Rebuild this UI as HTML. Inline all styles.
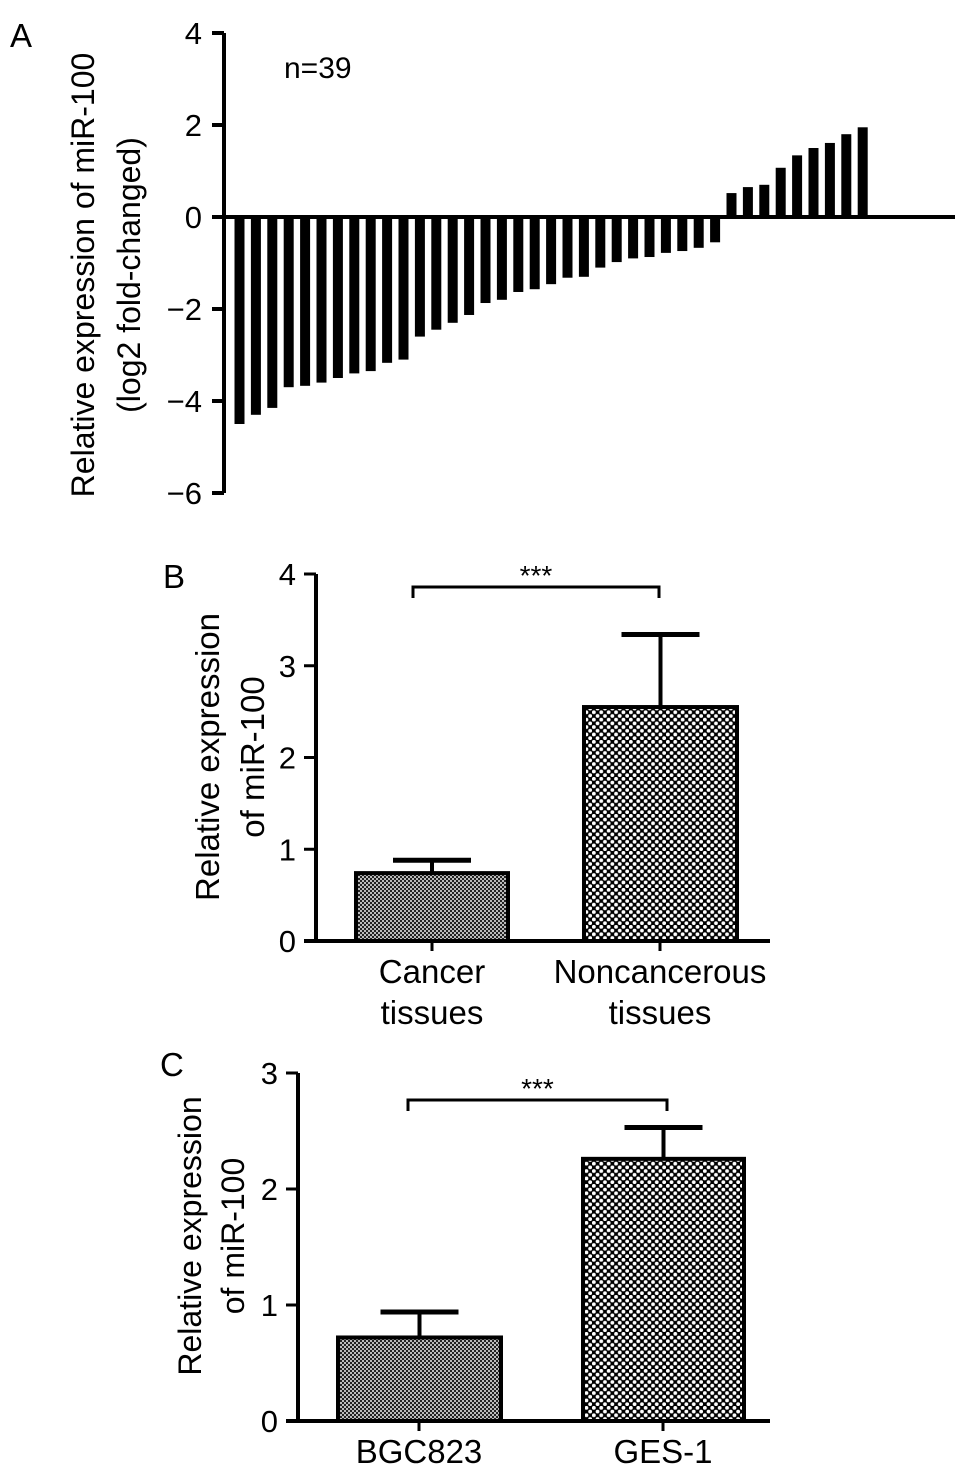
<!DOCTYPE html>
<html><head><meta charset="utf-8"><style>
html,body{margin:0;padding:0;background:#fff}
svg{display:block;font-family:"Liberation Sans",Arial,sans-serif}
</style></head><body>
<svg id="fig" width="969" height="1484" viewBox="0 0 969 1484" xmlns="http://www.w3.org/2000/svg">
<defs>
<pattern id="fine" width="4" height="4" patternUnits="userSpaceOnUse">
<rect width="4" height="4" fill="#bbb"/><rect width="2" height="2" fill="#222"/><rect x="2" y="2" width="2" height="2" fill="#222"/>
</pattern>
<pattern id="coarse" width="7.4" height="7.4" patternUnits="userSpaceOnUse">
<rect width="7.4" height="7.4" fill="#000"/><circle cx="1.85" cy="1.85" r="1.9" fill="#fff"/><circle cx="5.55" cy="5.55" r="1.9" fill="#fff"/>
</pattern>
</defs>
<g id="gA"></g>
<g id="gB"></g>
<g id="gC"></g>
</svg>
<script>
// Panel A data
const aValues = [-4.5,-4.3,-4.15,-3.7,-3.67,-3.6,-3.5,-3.4,-3.35,-3.17,-3.1,-2.6,-2.45,-2.3,-2.13,-1.87,-1.8,-1.63,-1.57,-1.46,-1.32,-1.3,-1.1,-0.98,-0.9,-0.87,-0.78,-0.74,-0.67,-0.55,0.52,0.65,0.7,1.07,1.34,1.5,1.61,1.8,1.95];
const aTicks = [4,2,0,-2,-4,-6];
const aTickLabels = ["4","2","0","\u22122","\u22124","\u22126"];
// Panel B data
const bCategories = [["Cancer","tissues"],["Noncancerous","tissues"]];
const bMeans = [0.74,2.55];
const bErrors = [0.14,0.79];
const bTicks = [0,1,2,3,4];
// Panel C data
const cCategories = [["BGC823"],["GES-1"]];
const cMeans = [0.72,2.26];
const cErrors = [0.22,0.27];
const cTicks = [0,1,2,3];

const NS="http://www.w3.org/2000/svg";
function el(parent,tag,attrs,text){const e=document.createElementNS(NS,tag);for(const k in attrs)e.setAttribute(k,attrs[k]);if(text!==undefined)e.textContent=text;parent.appendChild(e);return e;}

// ---- Panel A ----
(function(){
  const g=document.getElementById('gA');
  const y0=217, k=46, axX=224;
  const ay=v=>y0-v*k;
  const pitch=16.4, x0=239.5, bw=10;
  const ax=i=>x0+i*pitch;
  let t=el(g,'text',{x:10,y:47,'font-size':33});t.textContent='A';
  
  
  t=el(g,'text',{x:284,y:78,'font-size':30},'n=39');
  
  
  aValues.forEach((v,i)=>{
    const r=el(g,'rect',{x:ax(i)-bw/2,y:Math.min(ay(v),y0),width:bw,height:Math.abs(ay(v)-y0),fill:'#000'});
    
    
  });
  let l=el(g,'line',{x1:axX,y1:ay(4),x2:axX,y2:ay(-6),stroke:'#000','stroke-width':4});
  
  
  l=el(g,'line',{x1:axX,y1:y0,x2:955,y2:y0,stroke:'#000','stroke-width':4});
  
  
  aTicks.forEach((v,i)=>{
    el(g,'line',{x1:axX-12,y1:ay(v),x2:axX,y2:ay(v),stroke:'#000','stroke-width':4});
    const tt=el(g,'text',{x:axX-22,y:ay(v)+11,'font-size':31,'text-anchor':'end'},aTickLabels[i]);
    
    
  });
  const tl=el(g,'text',{transform:'translate(94,275) rotate(-90)','font-size':32,'text-anchor':'middle'},'Relative expression of miR-100');
  
  
  const tl2=el(g,'text',{transform:'translate(140,275) rotate(-90)','font-size':32,'text-anchor':'middle'},'(log2 fold-changed)');
  
  
})();

function barPanel(id,cfg){
  const g=document.getElementById(id);
  const y=v=>cfg.y0-v*cfg.k;
  let t=el(g,'text',{x:cfg.lx,y:cfg.ly,'font-size':33},cfg.letter);
  
  
  const fills=['url(#fine)','url(#coarse)'];
  cfg.means.forEach((m,i)=>{
    const [xl,xr]=cfg.bars[i]; const cx=(xl+xr)/2;
    const e=cfg.errs[i];
    el(g,'line',{x1:cx,y1:y(m),x2:cx,y2:y(m+e),stroke:'#000','stroke-width':4});
    el(g,'line',{x1:cx-39,y1:y(m+e),x2:cx+39,y2:y(m+e),stroke:'#000','stroke-width':5});
    const r=el(g,'rect',{x:xl,y:y(m),width:xr-xl,height:y(0)-y(m),fill:fills[i],stroke:'#000','stroke-width':4});
    
    
    el(g,'line',{x1:cfg.tx[i],y1:y(0),x2:cfg.tx[i],y2:y(0)+10,stroke:'#000','stroke-width':3});
    cfg.categories[i].forEach((s,j)=>{
      const tt=el(g,'text',{x:cfg.tx[i],y:y(0)+42+j*41,'font-size':33,'text-anchor':'middle'},s);
      
      
    });
  });
  let l=el(g,'line',{x1:cfg.ax,y1:y(cfg.ticks[cfg.ticks.length-1]),x2:cfg.ax,y2:y(0)+2,stroke:'#000','stroke-width':4});
  
  
  l=el(g,'line',{x1:cfg.ax-12,y1:y(0),x2:cfg.xend,y2:y(0),stroke:'#000','stroke-width':4});
  
  
  cfg.ticks.forEach(v=>{
    el(g,'line',{x1:cfg.ax-12,y1:y(v),x2:cfg.ax,y2:y(v),stroke:'#000','stroke-width':3});
    const tt=el(g,'text',{x:cfg.ax-20,y:y(v)+11,'font-size':31,'text-anchor':'end'},String(v));
    
    
  });
  const [bx1,bx2,by]=cfg.bracket;
  const p=el(g,'path',{d:`M${bx1},${by+11}V${by}H${bx2}V${by+11}`,fill:'none',stroke:'#000','stroke-width':3});
  
  
  const st=el(g,'text',{x:(bx1+bx2)/2,y:by-2,'font-size':28,'text-anchor':'middle'},'***');
  
  
  cfg.title.forEach((s,j)=>{
    const tt=el(g,'text',{transform:`translate(${cfg.titleX[j]},${cfg.titleY}) rotate(-90)`,'font-size':cfg.tfs,'text-anchor':'middle'},s);
    
    
  });
}
barPanel('gB',{letter:'B',lx:163,ly:588,y0:941,k:91.75,ax:316,xend:770,bars:[[356,508],[584,737]],tx:[432,660],
  means:bMeans,errs:bErrors,categories:bCategories,ticks:bTicks,bracket:[413,659,587],tfs:33,
  title:['Relative expression','of miR-100'],titleX:[219,264],titleY:757});
barPanel('gC',{letter:'C',lx:160,ly:1076,y0:1421,k:116,ax:298,xend:770,bars:[[338,501],[583,744]],tx:[419,663],
  means:cMeans,errs:cErrors,categories:cCategories,ticks:cTicks,bracket:[408,667,1100],tfs:32,
  title:['Relative expression','of miR-100'],titleX:[201,244],titleY:1236});
</script>
</body></html>
